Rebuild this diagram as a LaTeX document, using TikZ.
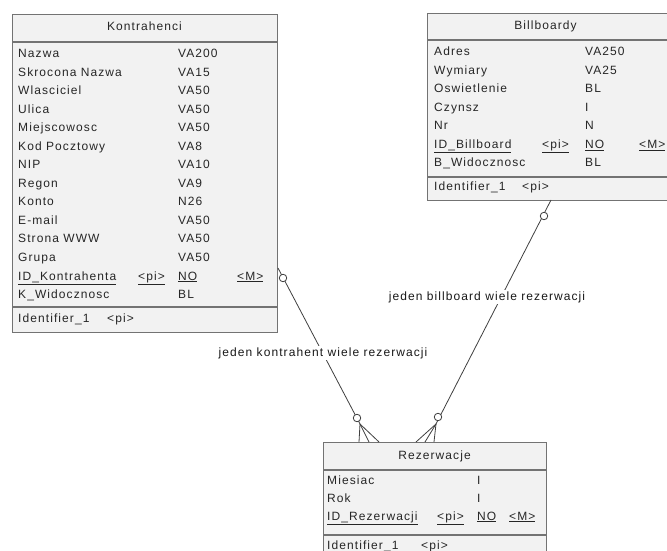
\documentclass[tikz,border=0pt]{standalone}
\usepackage{fontspec}
\setmainfont{Liberation Sans}[LetterSpace=9]
\begin{document}
\begin{tikzpicture}[x=1bp,y=-1bp,
  entity/.style={draw=black!55,line width=1.4bp,fill=black!5,rectangle,inner sep=0pt,anchor=north west},
  sepline/.style={draw=black!55,line width=1.1bp},
  attr/.style={anchor=west,inner sep=0pt,text height=8.6bp,text depth=2.6bp,text=black!85,font=\fontsize{12bp}{14bp}\selectfont},
  ttl/.style={anchor=center,inner sep=0pt,text height=8.6bp,text depth=2.6bp,text=black!85,font=\fontsize{12bp}{14bp}\selectfont},
  rel/.style={draw=black!75,line width=0.8bp},
  circ/.style={circle,draw=black!75,line width=0.8bp,fill=white,minimum size=7.5bp,inner sep=0pt},
  rlabel/.style={anchor=center,inner sep=1bp,fill=white,text height=8.6bp,text depth=2.6bp,text=black!90,font=\fontsize{12bp}{14bp}\selectfont}
]
\useasboundingbox (0,0) rectangle (667,551);
\fill[white] (0,0) rectangle (667,551);

% ---------- Kontrahenci ----------
\node[entity,minimum width=265bp,minimum height=318bp] (kon) at (12,14) {};
\draw[sepline] (12,42) -- (277,42);
\draw[sepline] (12,307) -- (277,307);
\node[ttl] (kont) at (144.5,28) {Kontrahenci};
\foreach \n/\t [count=\i] in {Nazwa/VA200,Skrocona Nazwa/VA15,Wlasciciel/VA50,Ulica/VA50,Miejscowosc/VA50,Kod Pocztowy/VA8,NIP/VA10,Regon/VA9,Konto/N26,E-mail/VA50,Strona WWW/VA50,Grupa/VA50,{\underline{ID\_Kontrahenta}}/{\underline{NO}},K\_Widocznosc/BL}{
  \node[attr] (kn\i) at (18,{55+18.5*(\i-1)}) {\n};
  \node[attr] (kt\i) at (178,{55+18.5*(\i-1)}) {\t};
}
\node[attr] (kpi) at (138,277) {\underline{<pi>}};
\node[attr] (km) at (237,277) {\underline{<M>}};
\node[attr] (kid) at (18,319) {Identifier\_1};
\node[attr] (kidpi) at (107,319) {<pi>};

% ---------- Billboardy ----------
\node[entity,minimum width=243bp,minimum height=187bp] (bil) at (427,13) {};
\draw[sepline] (427,40) -- (670,40);
\draw[sepline] (427,177) -- (670,177);
\node[ttl] (bilt) at (545.5,26.5) {Billboardy};
\foreach \n/\t [count=\i] in {Adres/VA250,Wymiary/VA25,Oswietlenie/BL,Czynsz/I,Nr/N,{\underline{ID\_Billboard}}/{\underline{NO}},B\_Widocznosc/BL}{
  \node[attr] (bn\i) at (434,{53+18.5*(\i-1)}) {\n};
  \node[attr] (bt\i) at (585,{53+18.5*(\i-1)}) {\t};
}
\node[attr] (bpi) at (542,145.5) {\underline{<pi>}};
\node[attr] (bm) at (639,145.5) {\underline{<M>}};
\node[attr] (bid) at (434,188) {Identifier\_1};
\node[attr] (bidpi) at (522,188) {<pi>};

% ---------- Rezerwacje ----------
\node[entity,minimum width=223bp,minimum height=130bp] (rez) at (323,442) {};
\draw[sepline] (323,470) -- (546,470);
\draw[sepline] (323,535) -- (546,535);
\node[ttl] (rezt) at (434.5,456) {Rezerwacje};
\foreach \n/\t [count=\i] in {Miesiac/I,Rok/I,{\underline{ID\_Rezerwacji}}/{\underline{NO}}}{
  \node[attr] (rn\i) at (327,{481+18*(\i-1)}) {\n};
  \node[attr] (rt\i) at (477,{481+18*(\i-1)}) {\t};
}
\node[attr] (rpi) at (437,517) {\underline{<pi>}};
\node[attr] (rm) at (509,517) {\underline{<M>}};
\node[attr] (rid) at (327,546) {Identifier\_1};
\node[attr] (ridpi) at (421,546) {<pi>};

% ---------- relationship: Kontrahenci - Rezerwacje ----------
\coordinate (k0) at (278,268);
\coordinate (kf) at (360,424);
\coordinate (kf1) at (359,442);
\coordinate (kf2) at (369,442);
\coordinate (kf3) at (379,442);
\draw[rel] (k0) -- (kf) -- (kf2);
\draw[rel] (kf) -- (kf1);
\draw[rel] (kf) -- (kf3);
\node[circ] (kc1) at (283,278) {};
\node[circ] (kc2) at (357,418) {};
\node[rlabel] (kl) at (323,353) {jeden kontrahent wiele rezerwacji};

% ---------- relationship: Billboardy - Rezerwacje ----------
\coordinate (b0) at (551,200);
\coordinate (bf) at (436,424);
\coordinate (bf1) at (416,442);
\coordinate (bf2) at (425,442);
\coordinate (bf3) at (434,442);
\draw[rel] (b0) -- (bf) -- (bf2);
\draw[rel] (bf) -- (bf1);
\draw[rel] (bf) -- (bf3);
\node[circ] (bc1) at (544,216) {};
\node[circ] (bc2) at (438,417) {};
\node[rlabel] (bl) at (487,297) {jeden billboard wiele rezerwacji};
\end{tikzpicture}
\end{document}
